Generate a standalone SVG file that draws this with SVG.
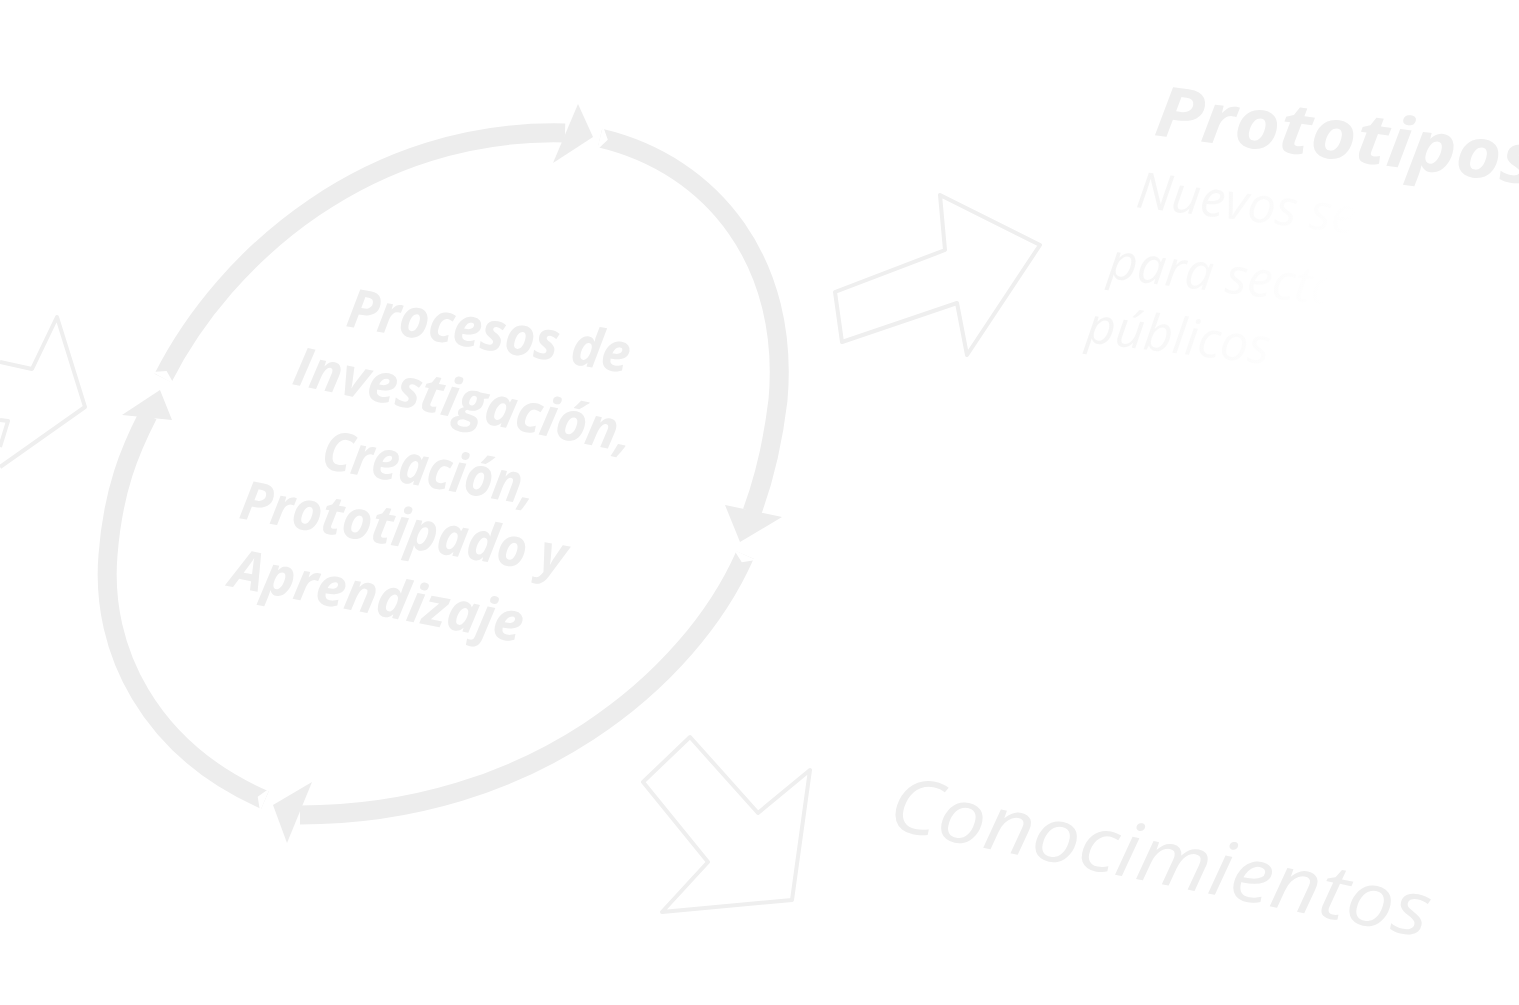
<svg xmlns="http://www.w3.org/2000/svg" width="1519" height="1005" viewBox="0 0 1519 1005">
<defs>
<style>
.arc{fill:none;stroke:#ededed;stroke-width:19;stroke-linecap:butt}
.head{fill:#ededed}
.notch{fill:#ffffff}
.out{fill:none;stroke:#efefef;stroke-width:4;stroke-linejoin:round}
.main{font-family:"Open Sans","Liberation Sans",sans-serif;font-weight:700;font-style:italic;fill:#eeeeee}
.big{font-family:"Open Sans","Liberation Sans",sans-serif;font-weight:700;font-style:italic;fill:#efefef}
.reg{font-family:"Open Sans","Liberation Sans",sans-serif;font-weight:400;font-style:italic}
</style>
<linearGradient id="fade" gradientUnits="userSpaceOnUse" x1="0" y1="0" x2="220" y2="0">
<stop offset="0" stop-color="#f4f4f4"/>
<stop offset="0.55" stop-color="#fafafa"/>
<stop offset="1" stop-color="#ffffff"/>
</linearGradient>
</defs>
<rect width="1519" height="1005" fill="#ffffff"/>

<g id="connectors">
<path class="arc" d="M163,378 C225,255 370,128 565,133"/>
<polygon class="head" points="578,104 593,137 553,163"/>
<path class="arc" d="M600,138 C715,165 790,265 778,400 C772,450 762,485 752,512"/>
<polygon class="head" points="725,505 782,517 740,542"/>
<path class="arc" d="M745,555 C690,680 530,815 300,815"/>
<polygon class="head" points="312,782 273,805 287,843"/>
<path class="arc" d="M265,800 C150,750 100,650 108,555 C113,490 130,450 148,415"/>
<polygon class="head" points="160,390 122,415 172,420"/>
<polygon class="notch" points="174,384 166.6,370.9 152,372"/>
<polygon class="notch" points="597,150 607.8,139.8 603,126"/>
<polygon class="notch" points="756,560 741.8,562.3 734,550"/>
<polygon class="notch" points="270,788 257.7,796.8 260,811.5"/>
</g>

<g id="arrow-left">
<polyline class="out" points="0,362 32,369 57,317 85,407 0,467"/>
<polyline class="out" points="0,420 8,421 0,447"/>
</g>
<g id="arrow-right">
<polygon class="out" points="835,292 945,250 940,195 1040,245 967,355 957,303 842,342"/>
</g>
<g id="arrow-down">
<polygon class="out" points="643,782 690,737 758,813 810,770 792,900 662,912 708,862"/>
</g>

<g id="cycle-label" class="main" font-size="54">
<text transform="translate(345,326) rotate(9.5)" textLength="286" lengthAdjust="spacingAndGlyphs">Procesos de</text>
<text transform="translate(291,384) rotate(11.5)" textLength="345" lengthAdjust="spacingAndGlyphs">Investigación,</text>
<text transform="translate(320,468) rotate(10)" textLength="216" lengthAdjust="spacingAndGlyphs">Creación,</text>
<text transform="translate(238,518) rotate(10)" textLength="330" lengthAdjust="spacingAndGlyphs">Prototipado y</text>
<text transform="translate(228,586) rotate(11)" textLength="297" lengthAdjust="spacingAndGlyphs">Aprendizaje</text>
</g>

<g id="prototipos">
<text class="big" font-size="70" transform="translate(1153,135) rotate(7.5)" textLength="385" lengthAdjust="spacingAndGlyphs">Prototipos</text>
<g class="reg" font-size="50" fill="url(#fade)">
<text transform="translate(1135,207) rotate(7)">Nuevos servicios</text>
<text transform="translate(1107,278) rotate(7)">para sectores</text>
<text transform="translate(1085,342) rotate(7)">públicos</text>
</g>
</g>

<g id="conocimientos">
<text class="reg" font-size="76" fill="#eeeeee" transform="translate(886,828) rotate(11.5)" textLength="550" lengthAdjust="spacingAndGlyphs">Conocimientos</text>
</g>
</svg>
